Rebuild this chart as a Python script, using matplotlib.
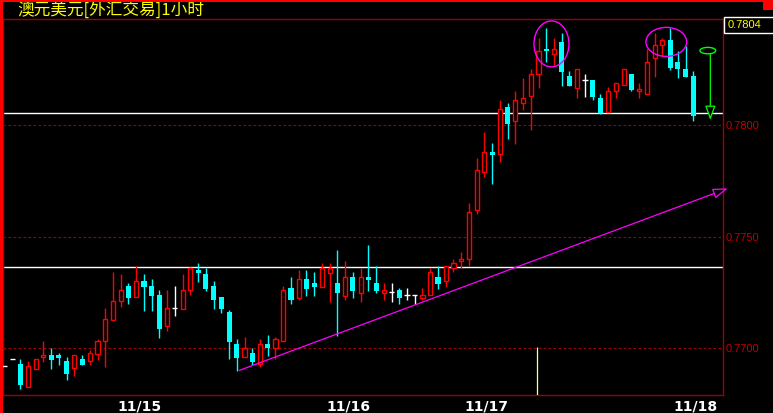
import matplotlib
matplotlib.use("Agg")
import matplotlib.pyplot as plt
from matplotlib.patches import Rectangle, Ellipse

# ---- data: AUD/USD hourly candles ----
title = "澳元美元[外汇交易]1小时"

opens = [
    0.76919, 0.76951, 0.76930, 0.76828, 0.76909, 0.76960, 0.76970, 0.76970, 0.76943, 0.76910,
    0.76952, 0.76942, 0.76976, 0.77031, 0.77128, 0.77211, 0.77279, 0.77229, 0.77302, 0.77279,
    0.77239, 0.77099, 0.77179, 0.77178, 0.77260, 0.77351, 0.77333, 0.77279, 0.77230, 0.77163,
    0.77019, 0.76960, 0.76979, 0.76928, 0.77019, 0.77000, 0.77031, 0.77270, 0.77227, 0.77311,
    0.77293, 0.77276, 0.77339, 0.77293, 0.77236, 0.77320, 0.77249, 0.77320, 0.77293, 0.77249,
    0.77251, 0.77261, 0.77238, 0.77238, 0.77227, 0.77238, 0.77320, 0.77300, 0.77359, 0.77390,
    0.77399, 0.77619, 0.77789, 0.77880, 0.77870, 0.78081, 0.78021, 0.78099, 0.78130, 0.78229,
    0.78341, 0.78318, 0.78374, 0.78220, 0.78169, 0.78202, 0.78202, 0.78121, 0.78058, 0.78152,
    0.78179, 0.78229, 0.78152, 0.78139, 0.78300, 0.78359, 0.78381, 0.78283, 0.78251, 0.78220,
]
highs = [
    0.76919, 0.76951, 0.76952, 0.76943, 0.76952, 0.77034, 0.77001, 0.76979, 0.76961, 0.76969,
    0.76970, 0.76992, 0.77042, 0.77181, 0.77342, 0.77333, 0.77293, 0.77369, 0.77333, 0.77311,
    0.77261, 0.77261, 0.77279, 0.77333, 0.77363, 0.77383, 0.77360, 0.77300, 0.77230, 0.77172,
    0.77042, 0.77049, 0.77001, 0.77042, 0.77060, 0.77051, 0.77279, 0.77320, 0.77351, 0.77351,
    0.77342, 0.77383, 0.77383, 0.77441, 0.77391, 0.77342, 0.77360, 0.77463, 0.77369, 0.77293,
    0.77293, 0.77270, 0.77270, 0.77238, 0.77270, 0.77360, 0.77369, 0.77368, 0.77399, 0.77432,
    0.77652, 0.77853, 0.77970, 0.77921, 0.78113, 0.78099, 0.78154, 0.78212, 0.78251, 0.78391,
    0.78436, 0.78390, 0.78414, 0.78242, 0.78251, 0.78229, 0.78202, 0.78139, 0.78170, 0.78188,
    0.78251, 0.78229, 0.78188, 0.78342, 0.78414, 0.78390, 0.78435, 0.78332, 0.78354, 0.78242,
]
lows = [
    0.76919, 0.76951, 0.76817, 0.76828, 0.76909, 0.76940, 0.76909, 0.76925, 0.76859, 0.76877,
    0.76926, 0.76926, 0.76949, 0.76917, 0.77128, 0.77187, 0.77200, 0.77229, 0.77169, 0.77169,
    0.77048, 0.77079, 0.77146, 0.77178, 0.77238, 0.77299, 0.77258, 0.77178, 0.77160, 0.76951,
    0.76900, 0.76960, 0.76926, 0.76917, 0.76967, 0.76951, 0.77031, 0.77199, 0.77217, 0.77235,
    0.77235, 0.77276, 0.77208, 0.77057, 0.77217, 0.77227, 0.77208, 0.77257, 0.77248, 0.77217,
    0.77208, 0.77199, 0.77217, 0.77199, 0.77217, 0.77238, 0.77266, 0.77276, 0.77341, 0.77359,
    0.77368, 0.77601, 0.77770, 0.77738, 0.77837, 0.77940, 0.77917, 0.78070, 0.77980, 0.78169,
    0.78283, 0.78269, 0.78178, 0.78178, 0.78121, 0.78128, 0.78112, 0.78049, 0.78058, 0.78121,
    0.78179, 0.78152, 0.78121, 0.78139, 0.78218, 0.78309, 0.78249, 0.78211, 0.78218, 0.78021,
]
closes = [
    0.76919, 0.76951, 0.76835, 0.76921, 0.76952, 0.76970, 0.76949, 0.76958, 0.76886, 0.76969,
    0.76926, 0.76978, 0.77033, 0.77130, 0.77211, 0.77260, 0.77227, 0.77300, 0.77276, 0.77236,
    0.77088, 0.77179, 0.77179, 0.77260, 0.77359, 0.77339, 0.77267, 0.77218, 0.77178, 0.77030,
    0.76958, 0.77000, 0.76940, 0.77018, 0.77000, 0.77040, 0.77260, 0.77217, 0.77309, 0.77267,
    0.77276, 0.77359, 0.77360, 0.77249, 0.77318, 0.77257, 0.77318, 0.77306, 0.77257, 0.77261,
    0.77251, 0.77227, 0.77238, 0.77238, 0.77238, 0.77342, 0.77288, 0.77368, 0.77381, 0.77399,
    0.77611, 0.77798, 0.77879, 0.77868, 0.78072, 0.78007, 0.78112, 0.78121, 0.78229, 0.78332,
    0.78332, 0.78341, 0.78240, 0.78178, 0.78251, 0.78202, 0.78128, 0.78057, 0.78152, 0.78188,
    0.78251, 0.78160, 0.78163, 0.78283, 0.78359, 0.78381, 0.78258, 0.78251, 0.78218, 0.78040,
]

date_labels = ["11/15", "11/16", "11/17", "11/18"]
date_pos = [17.4, 44.4, 62.3, 89.3]

price_ticks = [0.7700, 0.7750, 0.7800]
level_lines = [0.78054, 0.77363]          # horizontal support / resistance

# ---- figure layout (pixels) ----
W, H = 773, 413
fig = plt.figure(figsize=(W / 100, H / 100), dpi=100, facecolor="black")
L, R, T, B = 3, 723, 19.3, 395
ax = fig.add_axes([L / W, 1 - B / H, (R - L) / W, (B - T) / H], facecolor="black")

ax.set_xlim(-0.22, 92.84)
ax.set_ylim(0.767906, 0.784753)

UP, DOWN, FLAT = "#ff0000", "#00ffff", "#ffffff"
LW = 1.0

for i, (o, h, l, c) in enumerate(zip(opens, highs, lows, closes)):
    if c > o:
        ax.vlines(i, l, h, color=UP, lw=LW, zorder=3)
        ax.add_patch(Rectangle((i - 0.27, o), 0.54, c - o, facecolor="black",
                               edgecolor=UP, lw=LW, zorder=4))
    elif c < o:
        ax.vlines(i, l, h, color=DOWN, lw=LW, zorder=3)
        ax.add_patch(Rectangle((i - 0.33, c), 0.66, o - c, facecolor=DOWN,
                               edgecolor="none", lw=0, zorder=4))
    else:
        if h > l:
            ax.vlines(i, l, h, color=FLAT, lw=LW, zorder=3)
        ax.hlines(o, i - 0.33, i + 0.33, color=FLAT, lw=LW, zorder=4)

# dashed price grid
for p in price_ticks:
    ax.axhline(p, color="#a00000", lw=0.8, ls=(0, (2.4, 2.1)), zorder=1)

# horizontal levels
for p in level_lines:
    ax.axhline(p, color="white", lw=1.0, zorder=2)

# rising trend line with arrow head
ax.annotate("", xy=(93.45, 0.77717), xytext=(30.32, 0.76901),
            arrowprops=dict(arrowstyle="-|>,head_length=0.9,head_width=0.31",
                            color="#ff00ff", fc="black", lw=0.9,
                            shrinkA=0, shrinkB=0),
            annotation_clip=False, zorder=6)

# circled double top
ax.add_patch(Ellipse((70.67, 0.78365), 4.52, 0.00206, fill=False,
                     edgecolor="#ff00ff", lw=1.0, zorder=6, clip_on=False))
ax.add_patch(Ellipse((85.51, 0.78374), 5.26, 0.00130, fill=False,
                     edgecolor="#ff00ff", lw=1.0, zorder=6, clip_on=False))

# projected move down
ax.add_patch(Ellipse((90.88, 0.78335), 2.03, 0.000287, fill=False,
                     edgecolor="#00ff00", lw=1.0, zorder=6))
ax.annotate("", xy=(91.2, 0.78024), xytext=(91.2, 0.78321),
            arrowprops=dict(arrowstyle="-|>,head_length=0.86,head_width=0.32",
                            color="#00ff00", fc="black", lw=0.9,
                            shrinkA=0, shrinkB=0),
            annotation_clip=False, zorder=6)

# cursor marker
ax.vlines(68.8, 0.767906, 0.77006, color="#ffff90", lw=0.9, zorder=5)

# axes styling
for s in ax.spines.values():
    s.set_color("#a00000")
    s.set_linewidth(1.0)

ax.yaxis.tick_right()
ax.set_yticks(price_ticks)
ax.set_yticklabels([f"{p:.4f}" for p in price_ticks], family="Liberation Sans")
ax.tick_params(axis="y", length=0, pad=2, labelcolor="#c00000", labelsize=8)

ax.set_xticks(date_pos)
ax.set_xticklabels(date_labels, fontweight="bold", family="DejaVu Sans")
ax.tick_params(axis="x", length=0, pad=3, labelcolor="white", labelsize=10)

# window chrome
fig.patches.append(Rectangle((0, 0), 3 / W, 1, transform=fig.transFigure,
                             facecolor="#ff0000", edgecolor="none", zorder=10))
fig.patches.append(Rectangle((0, 1 - 2 / H), 1, 2 / H, transform=fig.transFigure,
                             facecolor="#ff0000", edgecolor="none", zorder=10))
fig.patches.append(Rectangle((763 / W, 1 - 9.5 / H), 10 / W, 9.5 / H,
                             transform=fig.transFigure, facecolor="#ff0000",
                             edgecolor="none", zorder=10))

# last price box
fig.patches.append(Rectangle((723.5 / W, 1 - 33.3 / H), 50 / W, 16.6 / H,
                             transform=fig.transFigure, facecolor="black",
                             edgecolor="white", lw=1.0, zorder=10))
fig.text(745 / W, 1 - 25.5 / H, f"{closes[-1]:.4f}", color="#ffff00",
         fontsize=8, family="Liberation Sans", ha="center", va="center", zorder=11)

fig.text(17 / W, 1 - 9.5 / H, title, color="#ffff00", fontsize=12,
         family=["Noto Sans CJK SC", "DejaVu Sans"], ha="left", va="center")

fig.savefig("out.png", dpi=100, facecolor="black")
